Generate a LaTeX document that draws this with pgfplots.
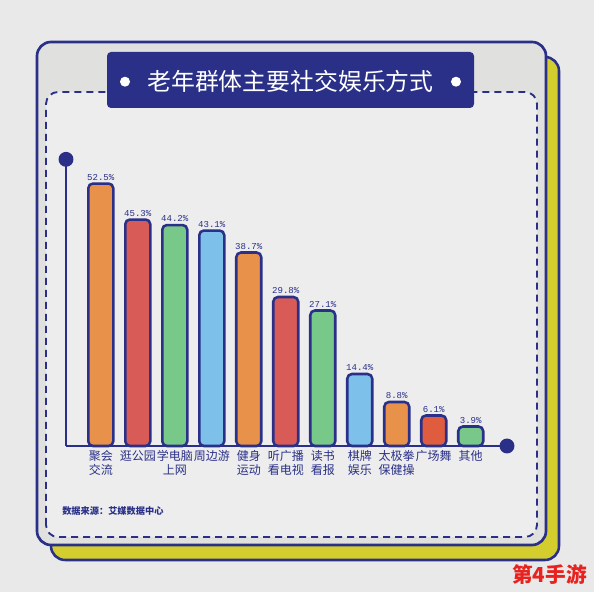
\documentclass[border=0pt]{standalone}
\usepackage{fontspec}
\setmainfont{Noto Sans CJK SC}
\newfontfamily\numfont{Liberation Mono}
\usepackage{pgfplots}
\pgfplotsset{compat=1.18}
\definecolor{navy}{HTML}{2A3088}
\definecolor{bgc}{HTML}{E9E9E9}
\definecolor{cardc}{HTML}{E0E0DE}
\definecolor{innerc}{HTML}{EDEDED}
\definecolor{yel}{HTML}{D3CE2E}
\definecolor{borange}{HTML}{E8914A}
\definecolor{bred}{HTML}{D95B58}
\definecolor{bgreen}{HTML}{78C88A}
\definecolor{bblue}{HTML}{7DC0EA}
\definecolor{bored}{HTML}{DF5C3E}
\definecolor{wmred}{HTML}{E8231F}
\begin{document}
\begin{tikzpicture}[x=0.75pt,y=0.75pt]
\fill[bgc] (0,0) rectangle (594,592);
\filldraw[fill=yel, draw=navy, line width=1.9pt, rounded corners=10.5pt] (51,32) rectangle (559,535);
\filldraw[fill=cardc, draw=navy, line width=2pt, rounded corners=10.5pt] (37,47) rectangle (546,550);
\filldraw[fill=innerc, draw=navy, line width=1.4pt, dash pattern=on 5.25pt off 3.75pt, rounded corners=9pt] (46,55) rectangle (537,500);
\fill[navy, rounded corners=3pt] (107,484) rectangle (474,540);
\fill[white] (125,510.3) circle (3.75pt);
\fill[white] (456,510.3) circle (3.75pt);
\node[white, inner sep=0pt, font=\fontsize{17.9}{17.9}\selectfont] at (290.5,511) {老年群体主要社交娱乐方式};
\begin{axis}[
  at={(49.5pt,109.5pt)}, anchor=south west,
  scale only axis, width=330.75pt, height=215pt,
  xmin=-0.94, xmax=10.98, ymin=0, ymax=57.34,
  axis x line=bottom, axis y line=left,
  axis line style={navy, line width=1.9pt, -},
  axis on top,
  ybar, bar width=18.75pt, bar shift=0pt,
  ytick=\empty,
  xtick={0,1,2,3,4,5,6,7,8,9,10},
  xticklabels={{聚会\\交流},{逛公园},{学电脑\\上网},{周边游},{健身\\运动},{听广播\\看电视},{读书\\看报},{棋牌\\娱乐},{太极拳\\保健操},{广场舞},{其他}},
  major tick length=0pt,
  xticklabel style={align=center, text=navy, inner sep=0pt, yshift=-3pt,
    font=\fontsize{9}{10.7}\selectfont},
  nodes near coords={\pgfmathprintnumber[fixed,precision=1,fixed zerofill]{\pgfplotspointmeta}\%},
  every node near coord/.append style={font=\numfont\fontsize{6.8}{6.8}\selectfont, text=navy, inner sep=1.3pt, /pgf/number format/assume math mode=true},
  every axis plot/.append style={draw=navy, line width=1.9pt, rounded corners=3.5pt},
  clip=false,
]
\addplot[fill=borange] coordinates {(0,52.5) (4,38.7) (8,8.8)};
\addplot[fill=bred] coordinates {(1,45.3) (5,29.8)};
\addplot[fill=bgreen] coordinates {(2,44.2) (6,27.1) (10,3.9)};
\addplot[fill=bblue] coordinates {(3,43.1) (7,14.4)};
\addplot[fill=bored] coordinates {(9,6.1)};
\fill[navy] (rel axis cs:0,1) circle (5.6pt);
\fill[navy] (rel axis cs:1,0) circle (5.6pt);
\end{axis}
\node[anchor=west, inner sep=0pt, text=navy, font=\fontsize{6.9}{6.9}\selectfont\bfseries] at (62,81) {数据来源：艾媒数据中心};
\node[anchor=west, inner sep=0pt, text=wmred, font=\fontsize{15.5}{15.5}\selectfont\bfseries] at (512,17) {第4手游};
\pgfresetboundingbox
\path[use as bounding box] (0,0) rectangle (594,592);
\end{tikzpicture}
\end{document}
